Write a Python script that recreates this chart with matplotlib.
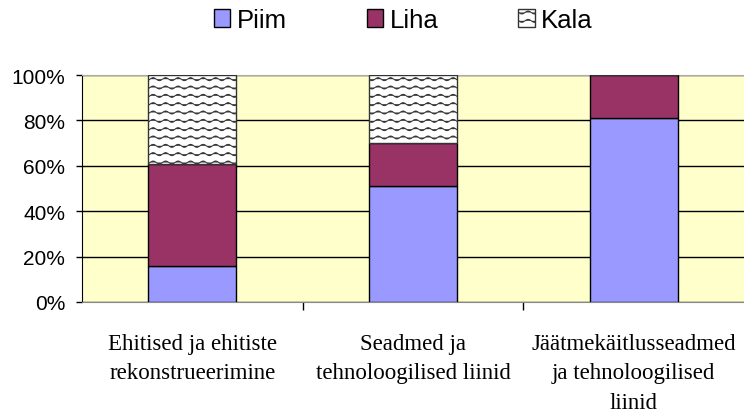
import warnings
warnings.filterwarnings("ignore")
import numpy as np
import matplotlib
matplotlib.use("Agg")
import matplotlib.pyplot as plt
from matplotlib import hatch as mhatch
from matplotlib.path import Path
from matplotlib.ticker import FuncFormatter

categories = ["Ehitised ja ehitiste\nrekonstrueerimine",
              "Seadmed ja\ntehnoloogilised liinid",
              "Jäätmekäitlusseadmed\nja tehnoloogilised\nliinid"]
piim = [16, 51, 81]
liha = [45, 19, 19]
kala = [39, 30, 0]
series_names = ["Piim", "Liha", "Kala"]
yticks = [0, 20, 40, 60, 80, 100]


class WaveHatch(mhatch.HatchPatternBase):
    """Wavy-line hatch bound to the '~' character."""
    def __init__(self, hatch, density):
        self.n_rows = int(hatch.count('~') * density)
        self.n_seg = 96
        self.num_vertices = self.n_rows * (self.n_seg + 1)

    def set_vertices_and_codes(self, vertices, codes):
        xs = np.linspace(0.0, 1.0, self.n_seg + 1)
        step = 1.0 / self.n_rows
        k = 0
        for r in range(self.n_rows):
            y0 = (r + 0.5) * step
            ys = y0 + 0.015 * np.sin(2 * np.pi * 8 * xs)
            vertices[k:k + self.n_seg + 1, 0] = xs
            vertices[k:k + self.n_seg + 1, 1] = ys
            codes[k] = Path.MOVETO
            codes[k + 1:k + self.n_seg + 1] = Path.LINETO
            k += self.n_seg + 1


mhatch._hatch_types.append(WaveHatch)
plt.rcParams['hatch.linewidth'] = 0.7

fig = plt.figure(figsize=(7.44, 4.14), dpi=100)
ax = fig.add_axes([82 / 744, 1 - 303 / 414, 662 / 744, 227 / 414])
ax.set_facecolor("#FFFFCC")

x = np.arange(len(categories))
w = 0.4
b1 = ax.bar(x, piim, w, color="#9999FF", edgecolor="black", linewidth=1.0, zorder=3, label=series_names[0])
b2 = ax.bar(x, liha, w, bottom=piim, color="#993366", edgecolor="black", linewidth=1.0, zorder=3, label=series_names[1])
bot3 = [p + l for p, l in zip(piim, liha)]
b3 = ax.bar(x, kala, w, bottom=bot3, color="white", edgecolor="#333333", hatch="~~", linewidth=1.0, zorder=3, label=series_names[2])

ax.set_xlim(-0.5, len(categories) - 0.5)
ax.set_ylim(0, 100)
ax.set_yticks(yticks)
ax.yaxis.set_major_formatter(FuncFormatter(lambda v, p: f"{int(v)}%"))
ax.grid(axis='y', color='black', linewidth=1.0, zorder=1)
ax.set_axisbelow(True)

ax.set_xticks(x)
ax.set_xticklabels(categories, family="Liberation Serif", fontsize=16.5, linespacing=1.55)
ax.tick_params(axis='x', length=0, pad=22)
ax.set_xticks(np.arange(0.5, len(categories) - 0.5, 1.0), minor=True)
ax.tick_params(axis='x', which='minor', length=6, width=1, color='black', direction='out')
ax.tick_params(axis='y', length=4, width=1, color='black', pad=8)
for lab in ax.get_yticklabels():
    lab.set_family("Liberation Sans")
    lab.set_fontsize(15)

ax.spines['left'].set_color('black')
ax.spines['bottom'].set_color('#888888')
ax.spines['top'].set_color('#AAAAAA')
ax.spines['right'].set_visible(False)

leg = fig.legend(handles=[b1, b2, b3], labels=series_names, loc='center',
                 bbox_to_anchor=(0.542, 1 - 21 / 414), ncol=3, frameon=False,
                 handlelength=0.65, handleheight=0.65, handletextpad=0.25,
                 columnspacing=3.1, borderpad=0.0,
                 prop={'family': 'Liberation Sans', 'size': 18.5})

fig.savefig("out.png", dpi=100)
